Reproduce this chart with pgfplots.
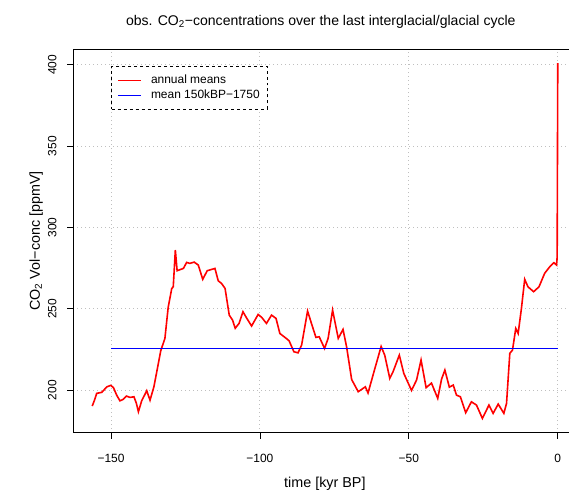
\documentclass[border=0pt]{standalone}
\usepackage{fontspec}
\setmainfont{Liberation Sans}
\usepackage{pgfplots}
\pgfplotsset{compat=1.18}

% annual means (kyr BP, ppmV)
\pgfplotstableread{
x y
-156.3 190.2
-155.5 194.0
-154.8 198.0
-153.1 198.6
-151.4 202.0
-150.1 202.9
-149.2 201.6
-148.1 196.9
-147.0 193.4
-145.9 194.3
-144.8 196.3
-143.6 195.5
-142.3 195.9
-141.5 192.0
-140.8 186.7
-139.7 193.4
-138.0 199.6
-136.9 193.8
-135.6 202.0
-134.1 216.4
-133.3 224.2
-131.9 231.8
-130.8 250.9
-129.6 262.5
-129.1 263.5
-128.4 286.1
-127.8 273.4
-125.7 274.8
-124.6 278.5
-123.5 277.9
-122.1 278.7
-120.7 276.9
-119.2 268.1
-117.7 273.4
-116.2 274.2
-115.1 274.8
-114.0 267.2
-112.9 265.6
-111.7 262.5
-110.3 246.1
-109.2 243.1
-108.3 238.0
-107.0 241.0
-105.7 248.2
-104.5 244.4
-102.8 239.4
-100.6 246.5
-99.4 244.7
-97.8 241.0
-96.1 246.1
-94.6 244.1
-93.3 234.8
-91.6 232.4
-90.2 230.3
-88.6 223.6
-87.2 222.9
-86.0 227.7
-84.0 248.6
-82.7 241.0
-81.2 232.4
-80.1 232.8
-78.3 225.6
-77.1 231.8
-75.6 249.2
-73.7 231.8
-72.1 237.3
-70.9 226.6
-69.2 206.5
-67.0 199.0
-64.6 202.0
-63.7 198.2
-61.4 213.3
-59.3 226.8
-58.1 221.5
-56.4 207.2
-55.3 211.3
-53.2 221.5
-51.7 210.3
-49.1 199.8
-47.4 206.2
-45.9 218.5
-44.2 201.5
-42.4 204.3
-40.3 194.9
-39.0 206.8
-37.9 212.3
-36.4 201.8
-35.1 203.1
-34.0 196.9
-32.7 195.9
-30.9 186.1
-29.0 192.8
-27.3 190.8
-25.3 182.6
-23.1 190.8
-21.7 185.7
-20.0 191.4
-18.1 185.7
-17.2 191.8
-16.1 222.6
-15.2 224.6
-14.1 237.9
-13.3 234.8
-12.2 250.2
-11.1 268.1
-10.0 263.5
-8.1 260.5
-6.3 263.5
-4.4 271.8
-2.7 275.8
-1.3 278.3
-0.4 276.9
-0.2 282.0
0.0 401.0
}\annual

\begin{document}
\begin{tikzpicture}
\begin{axis}[
  scale only axis, width=503.1bp, height=383.5bp,
  xmin=-162.66, xmax=6.26, ymin=173.8, ymax=409.6,
  xtick={-150,-100,-50,0}, xticklabels={−150,−100,−50,0},
  ytick={200,250,300,350,400},
  /pgf/number format/assume math mode=true,
  tick pos=left, tick align=outside, major tick length=6bp,
  tick style={black, line width=0.8bp},
  axis line style={line width=0.8bp},
  grid=major, grid style={lightgray, line width=0.9bp, dash pattern=on 1bp off 3bp},
  ticklabel style={font=\fontsize{12}{14}\selectfont},
  xticklabel style={anchor=center, yshift=-19.5bp},
  yticklabel style={rotate=90, anchor=center},
  yticklabel shift=15bp,
  label style={font=\fontsize{14.4}{17}\selectfont},
  xlabel={time [kyr BP]},
  xlabel style={at={(axis description cs:0.5,-0.134)}, anchor=center},
  ylabel={CO\textsubscript{2} Vol−conc [ppmV]},
  ylabel style={at={(axis description cs:-0.074,0.5)}, anchor=center},
  title={obs. CO\textsubscript{2}−concentrations over the last interglacial/glacial cycle},
  title style={font=\fontsize{14.1}{17}\selectfont, at={(axis description cs:0.492,1.056)}, anchor=center},
  legend style={at={(axis description cs:0.0757,0.9556)}, anchor=north west,
    draw=black, dashed, line width=0.6bp, font=\fontsize{12}{14}\selectfont,
    inner xsep=6bp, inner ysep=6.5bp, row sep=1bp, cells={anchor=west}},
  legend image code/.code={\draw[#1, solid, line width=1.1bp] (4bp,0bp) -- (27bp,0bp); \path (34bp,0bp);},
]
\addplot[red, solid, line width=1.6bp] table {\annual};
\addplot[blue, solid, line width=1.4bp] coordinates {(-150,225.6) (0,225.6)};
\legend{annual means, mean 150kBP−1750}
\end{axis}
\pgfresetboundingbox
\useasboundingbox (-73.3bp,-58.3bp) rectangle (495.7bp,432.7bp);
\end{tikzpicture}
\end{document}
